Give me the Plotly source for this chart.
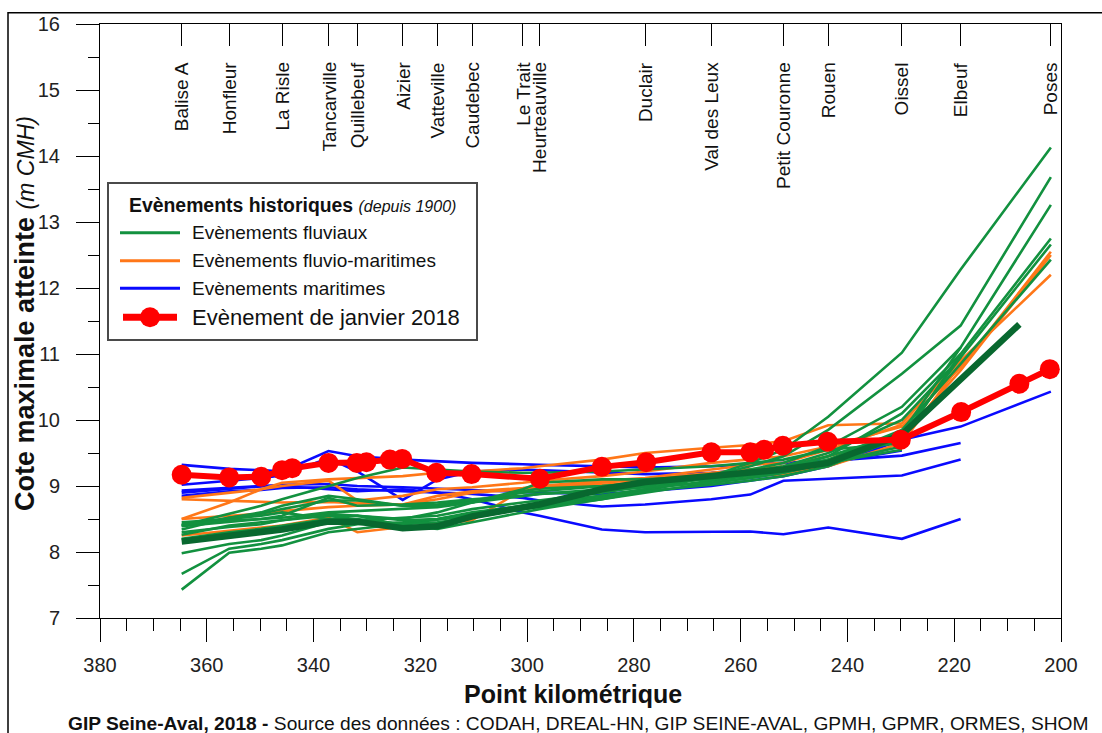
import plotly.graph_objects as go

# ---------------------------------------------------------------------------
# Stations along the Seine (point kilométrique) shown on the top axis
# ---------------------------------------------------------------------------
station_names = ["Balise A", "Honfleur", "La Risle", "Tancarville", "Quillebeuf",
                 "Aizier", "Vatteville", "Caudebec", "Le Trait", "Heurteauville",
                 "Duclair", "Val des Leux", "Petit Couronne", "Rouen", "Oissel",
                 "Elbeuf", "Poses"]
station_pk = [364.7, 355.8, 345.9, 337.2, 331.8, 323.3, 316.8, 310.3, 300.8,
              297.7, 277.9, 265.5, 252.0, 243.6, 229.8, 218.8, 201.9]

# Gauges used by the historical maximum water-level profiles
gauge_pk = [364.7, 355.8, 349.8, 345.9, 337.2, 331.8, 323.3, 316.8, 310.3, 300.8,
            297.7, 286.0, 277.9, 265.5, 258.2, 252.0, 243.6, 229.8, 218.8, 201.9]

# Maximum water level (m CMH) for each historical event, one row per event
maritime_events = [
    [9.32, 9.26, 9.24, 9.22, 9.53, 9.45, 9.40, 9.37, 9.35, 9.33, 9.32, 9.30, 9.28, 9.30, 9.33, 9.35, 9.38, 9.46, 9.65, None],
    [9.02, 9.08, 9.12, 9.16, 9.42, 9.22, 8.79, 9.10, 9.22, 9.25, 9.24, 9.20, 9.18, 9.20, 9.25, 9.28, 9.35, 9.54, None, None],
    [8.90, 8.96, 8.99, 9.02, 9.03, 9.00, 8.98, 8.96, 8.94, 8.92, 8.90, 8.88, 8.92, 9.00, 9.08, 9.15, 9.30, 9.70, 9.90, 10.43],
    [8.85, 8.92, 8.94, 8.97, 8.98, 8.95, 8.92, 8.90, 8.88, 8.82, 8.78, 8.69, 8.72, 8.80, 8.87, 9.08, 9.11, 9.16, 9.40, None],
    [8.93, 8.97, 9.00, 9.00, 8.95, 8.92, 8.95, 8.90, 8.80, 8.60, 8.55, 8.34, 8.30, 8.31, 8.31, 8.27, 8.37, 8.20, 8.50, None],
]

fluvio_maritime_events = [
    [8.50, 8.75, 8.95, 9.05, 9.10, 9.12, 9.15, 9.20, 9.22, 9.27, 9.30, 9.40, 9.50, 9.58, 9.62, 9.68, 9.92, 9.95, 10.90, 12.20],
    [8.82, 8.90, 8.95, 9.00, 9.08, 8.78, 8.85, 8.95, 8.98, 9.05, 9.08, 9.15, 9.22, 9.35, 9.40, 9.45, 9.60, 9.90, 10.80, 12.55],
    [8.80, 8.78, 8.76, 8.75, 8.76, 8.74, 8.72, 8.80, 8.90, 8.95, 8.98, 9.05, 9.10, 9.20, 9.25, 9.30, 9.45, 9.75, 10.75, 12.50],
    [8.25, 8.32, 8.36, 8.40, 8.52, 8.30, 8.38, 8.42, 8.48, 8.95, 8.98, 9.02, 9.06, 9.12, 9.15, 9.18, 9.30, 9.65, 10.85, None],
    [8.50, 8.55, 8.58, 8.62, 8.68, 8.70, 8.72, 8.85, 8.92, 8.97, 9.00, 9.08, 9.12, 9.25, 9.32, 9.35, 9.55, 9.93, None, None],
]

fluvial_events = [
    [7.43, 7.99, 8.05, 8.10, 8.30, 8.35, 8.42, 8.48, 8.55, 8.65, 8.68, 8.80, 8.92, 9.15, 9.35, 9.55, 10.05, 11.02, 12.28, 14.13],
    [7.67, 8.05, 8.12, 8.18, 8.35, 8.42, 8.45, 8.50, 8.60, 8.70, 8.72, 8.85, 8.95, 9.15, 9.30, 9.45, 9.85, 10.70, 11.43, 13.68],
    [7.98, 8.12, 8.18, 8.25, 8.45, 8.48, 8.52, 8.55, 8.65, 8.75, 8.78, 8.90, 9.00, 9.12, 9.25, 9.35, 9.60, 10.20, 11.10, 13.26],
    [8.39, 8.45, 8.50, 8.55, 8.82, 8.70, 8.72, 8.75, 8.80, 8.85, 8.88, 8.95, 9.02, 9.12, 9.20, 9.28, 9.45, 10.10, 11.00, 12.75],
    [8.34, 8.52, 8.58, 8.65, 8.78, 8.78, 8.70, 8.72, 8.78, 8.90, 8.92, 9.00, 9.05, 9.15, 9.22, 9.30, 9.50, 10.00, 10.95, 12.66],
    [8.26, 8.40, 8.45, 8.48, 8.55, 8.55, 8.48, 8.50, 8.58, 8.70, 8.75, 8.85, 8.95, 9.08, 9.15, 9.22, 9.40, 9.85, 10.85, 12.43],
    [8.40, 8.58, 8.70, 8.80, 9.00, 9.12, 9.28, 9.25, 9.22, 9.20, 9.20, 9.22, 9.25, 9.30, 9.35, 9.40, 9.55, 9.65, None, None],
    [8.45, 8.50, 8.55, 8.60, 8.50, 8.55, 8.50, 8.60, 8.75, 8.95, 9.05, 9.10, 9.10, 9.15, 9.20, 9.25, 9.40, 9.70, 11.00, None],
    [8.40, 8.52, 8.60, 8.70, 8.85, 8.80, 8.70, 8.70, 8.75, 8.92, 8.96, 9.00, 9.05, 9.10, 9.18, 9.25, 9.45, 9.80, 11.10, None],
    [8.30, 8.38, 8.42, 8.48, 8.58, 8.55, 8.40, 8.35, 8.45, 8.60, 8.65, 8.80, 8.90, 9.05, 9.12, 9.20, 9.35, 9.60, None, None],
    [8.20, 8.30, 8.35, 8.40, 8.50, 8.50, 8.42, 8.45, 8.52, 8.65, 8.70, 8.82, 8.92, 9.02, 9.08, 9.15, 9.30, 9.75, 10.95, None],
    [8.42, 8.48, 8.50, 8.52, 8.60, 8.62, 8.65, 8.68, 8.75, 8.85, 8.88, 8.92, 8.98, 9.05, 9.12, 9.20, 9.35, 9.55, None, None],
]

# Highlighted fluvial event (thick dark green profile)
major_fluvial_pk = [364.7, 355.8, 349.8, 345.9, 337.2, 331.8, 323.3, 316.8, 310.3, 300.8,
                    297.7, 286.0, 277.9, 265.5, 258.2, 252.0, 243.6, 229.8, 207.8]
major_fluvial_level = [8.16, 8.24, 8.30, 8.34, 8.46, 8.46, 8.36, 8.39, 8.54, 8.68,
                       8.72, 8.95, 9.06, 9.15, 9.20, 9.25, 9.35, 9.78, 11.45]

# January 2018 event
jan2018_pk = [364.7, 355.8, 349.8, 345.9, 344.0, 337.2, 331.9, 330.1, 325.7, 323.4,
              317.0, 310.4, 297.6, 286.0, 277.7, 265.5, 258.2, 255.6, 252.1, 243.7,
              230.0, 218.7, 207.8, 202.1]
jan2018_level = [9.17, 9.13, 9.14, 9.24, 9.27, 9.35, 9.35, 9.36, 9.40, 9.41,
                 9.20, 9.18, 9.11, 9.29, 9.36, 9.51, 9.51, 9.55, 9.61, 9.67,
                 9.70, 10.12, 10.55, 10.77]

GREEN = "#12913f"
DARK_GREEN = "#08682f"
ORANGE = "#ff7718"
BLUE = "#0a0aff"
RED = "#ff0000"
FONT = "Liberation Sans, Arial, sans-serif"

W, H = 1102, 733
ML, MR, MT, MB = 100, 41, 24, 115
PW, PH = W - ML - MR, H - MT - MB


def fx(xp):
    """pixel column -> paper x"""
    return (xp - ML) / PW


def fy(yp):
    """pixel row -> paper y"""
    return 1 - (yp - MT) / PH


fig = go.Figure()

for row in maritime_events:
    fig.add_trace(go.Scatter(x=gauge_pk, y=row, mode="lines",
                             line=dict(color=BLUE, width=2.6), hoverinfo="skip"))
for row in fluvio_maritime_events:
    fig.add_trace(go.Scatter(x=gauge_pk, y=row, mode="lines",
                             line=dict(color=ORANGE, width=2.6), hoverinfo="skip"))
for row in fluvial_events:
    fig.add_trace(go.Scatter(x=gauge_pk, y=row, mode="lines",
                             line=dict(color=GREEN, width=2.6), hoverinfo="skip"))
fig.add_trace(go.Scatter(x=major_fluvial_pk, y=major_fluvial_level, mode="lines",
                         line=dict(color=DARK_GREEN, width=6.5), hoverinfo="skip"))
fig.add_trace(go.Scatter(x=jan2018_pk, y=jan2018_level, mode="lines+markers",
                         line=dict(color=RED, width=6),
                         marker=dict(color=RED, size=20), hoverinfo="skip"))

# invisible trace so the top (station) axis is drawn
fig.add_trace(go.Scatter(x=[380, 200], y=[None, None], xaxis="x2", yaxis="y",
                         mode="lines", hoverinfo="skip"))

fig.update_layout(
    width=W, height=H,
    margin=dict(l=ML, r=MR, t=MT, b=MB),
    paper_bgcolor="white", plot_bgcolor="white",
    showlegend=False,
    font=dict(family=FONT, color="#222222"),
    xaxis=dict(range=[380, 200], dtick=20, tick0=200, showgrid=False, zeroline=False,
               showline=True, linecolor="black", linewidth=1, mirror=True,
               ticks="outside", ticklen=23, tickcolor="black", tickwidth=1,
               tickfont=dict(size=20, color="#222222"), ticklabelstandoff=6,
               minor=dict(dtick=5, ticks="outside", ticklen=12, tickcolor="black")),
    xaxis2=dict(range=[380, 200], overlaying="x", side="top", anchor="y",
                tickmode="array", tickvals=station_pk, showticklabels=False,
                ticks="inside", ticklen=22, tickcolor="black", tickwidth=1,
                showgrid=False, zeroline=False, showline=False),
    yaxis=dict(range=[7, 16], dtick=1, showgrid=False, zeroline=False,
               showline=True, linecolor="black", linewidth=1, mirror=True,
               ticks="outside", ticklen=23, tickcolor="black", tickwidth=1,
               tickfont=dict(size=20, color="#222222"), ticklabelstandoff=12,
               minor=dict(dtick=0.5, ticks="outside", ticklen=11, tickcolor="black")),
)

annotations = []
# station names, rotated, hanging below the top ticks
for name, pk in zip(station_names, station_pk):
    annotations.append(dict(x=pk, xref="x", y=1, yref="paper", yanchor="top",
                            yshift=-36, xanchor="center", text=name, textangle=-90,
                            showarrow=False, font=dict(size=19, color="#111111")))

# axis titles
annotations.append(dict(x=fx(25), y=fy(314), xref="paper", yref="paper",
                        text="<b>Cote maximale atteinte</b> <i><span style='font-size:23px'>(m CMH)</span></i>",
                        textangle=-90, showarrow=False, xanchor="center", yanchor="middle",
                        font=dict(size=27, color="#111111")))
annotations.append(dict(x=fx(573), y=fy(694), xref="paper", yref="paper",
                        text="<b>Point kilométrique</b>", showarrow=False,
                        xanchor="center", yanchor="middle",
                        font=dict(size=25, color="#111111")))
# source line
annotations.append(dict(x=fx(66), y=fy(723), xref="paper", yref="paper",
                        text="<b>GIP Seine-Aval, 2018 -</b> Source des données : CODAH, DREAL-HN, "
                             "GIP SEINE-AVAL, GPMH, GPMR, ORMES, SHOM",
                        showarrow=False, xanchor="left", yanchor="middle",
                        font=dict(size=19.2, color="#111111")))

# frame and legend box
shapes = [
    dict(type="rect", xref="paper", yref="paper", x0=fx(8), x1=1.25, y0=-0.35, y1=fy(12.7),
         line=dict(color="black", width=1.5), fillcolor="rgba(0,0,0,0)", layer="below"),
    dict(type="rect", xref="paper", yref="paper", x0=fx(108), x1=fx(477), y0=fy(340), y1=fy(183),
         line=dict(color="#4a4a4a", width=2), fillcolor="white", layer="above"),
]
legend_rows = [
    ("Evènements fluviaux", GREEN, 232.7, 19),
    ("Evènements fluvio-maritimes", ORANGE, 260.7, 19),
    ("Evènements maritimes", BLUE, 288.3, 19),
]
for label, color, yrow, size in legend_rows:
    shapes.append(dict(type="line", xref="paper", yref="paper", x0=fx(120), x1=fx(180),
                       y0=fy(yrow), y1=fy(yrow), line=dict(color=color, width=3), layer="above"))
    annotations.append(dict(x=fx(190), y=fy(yrow), xref="paper", yref="paper", text=label,
                            showarrow=False, xanchor="left", yanchor="middle",
                            font=dict(size=size, color="#111111")))
shapes.append(dict(type="line", xref="paper", yref="paper", x0=fx(123), x1=fx(177),
                   y0=fy(317.3), y1=fy(317.3), line=dict(color=RED, width=7), layer="above"))
shapes.append(dict(type="circle", xref="paper", yref="paper", x0=fx(140), x1=fx(160),
                   y0=fy(327.3), y1=fy(307.3), line=dict(color=RED, width=0), fillcolor=RED,
                   layer="above"))
annotations.append(dict(x=fx(190), y=fy(317.3), xref="paper", yref="paper",
                        text="Evènement de janvier 2018", showarrow=False,
                        xanchor="left", yanchor="middle", font=dict(size=22, color="#111111")))
annotations.append(dict(x=fx(127), y=fy(205), xref="paper", yref="paper",
                        text="<b>Evènements historiques</b> <i><span style='font-size:16px'>(depuis 1900)</span></i>",
                        showarrow=False, xanchor="left", yanchor="middle",
                        font=dict(size=19.4, color="#111111")))

fig.update_layout(annotations=annotations, shapes=shapes)
fig.write_html("out.html")
